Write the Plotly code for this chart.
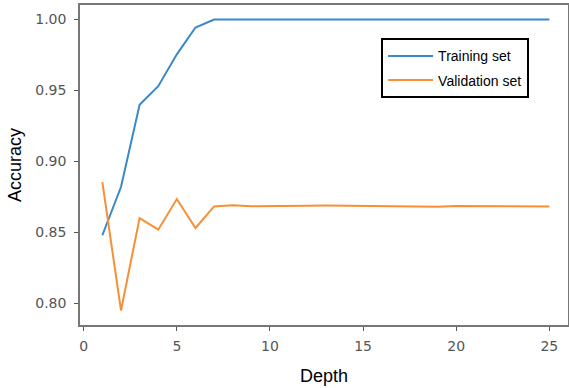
import plotly.graph_objects as go

depth = list(range(1, 26))
train_acc = [0.848, 0.882, 0.940, 0.953, 0.9755, 0.9944, 1.0, 1.0, 1.0, 1.0,
             1.0, 1.0, 1.0, 1.0, 1.0, 1.0, 1.0, 1.0, 1.0, 1.0,
             1.0, 1.0, 1.0, 1.0, 1.0]
val_acc = [0.8855, 0.795, 0.8601, 0.8519, 0.8735, 0.8531, 0.8683, 0.8692, 0.8684, 0.8687,
           0.8688, 0.8688, 0.8689, 0.8688, 0.8684, 0.8684, 0.8687, 0.8685, 0.8681, 0.8686,
           0.8686, 0.8684, 0.8681, 0.8682, 0.8683]
x_ticks = [0, 5, 10, 15, 20, 25]
y_ticks = [0.80, 0.85, 0.90, 0.95, 1.00]

fig = go.Figure()
fig.add_trace(go.Scatter(x=depth, y=train_acc, mode="lines", name="Training set",
                         legendgroup="train",
                         line=dict(color="#3b88c9", width=2)))
fig.add_trace(go.Scatter(x=depth, y=val_acc, mode="lines", name="Validation set",
                         legendgroup="val",
                         line=dict(color="#f88f33", width=2)))

axis_common = dict(showgrid=False, zeroline=False, showline=True, mirror=True,
                   linecolor="#777777", linewidth=1.5, ticks="outside", ticklen=4,
                   tickcolor="#555555", tickwidth=1, automargin=False,
                   tickfont=dict(family="DejaVu Sans", size=14, color="#555555"))

fig.update_layout(
    width=569, height=388,
    margin=dict(l=80, r=1, t=5, b=63),
    plot_bgcolor="white", paper_bgcolor="white",
    xaxis=dict(range=[-0.2, 26.0], tickvals=x_ticks, ticktext=[str(v) for v in x_ticks],
               ticklabelstandoff=3,
               title=dict(text="Depth", font=dict(family="Liberation Sans", size=18, color="black"),
                          standoff=17),
               **axis_common),
    yaxis=dict(range=[0.78475, 1.01025], tickvals=y_ticks, ticktext=[f"{v:.2f}" for v in y_ticks],
               ticklabelstandoff=5,
               title=dict(text="Accuracy", font=dict(family="Liberation Sans", size=18, color="black"),
                          standoff=9),
               **axis_common),
    legend=dict(x=0.617, y=0.896, xanchor="left", yanchor="top",
                bgcolor="white", bordercolor="black", borderwidth=2,
                tracegroupgap=3, itemwidth=45, entrywidth=150, entrywidthmode="pixels",
                font=dict(family="Liberation Sans", size=14, color="black")),
)

fig.write_html("out.html", config={"displayModeBar": False},
               post_script="document.body.style.margin='0';")
